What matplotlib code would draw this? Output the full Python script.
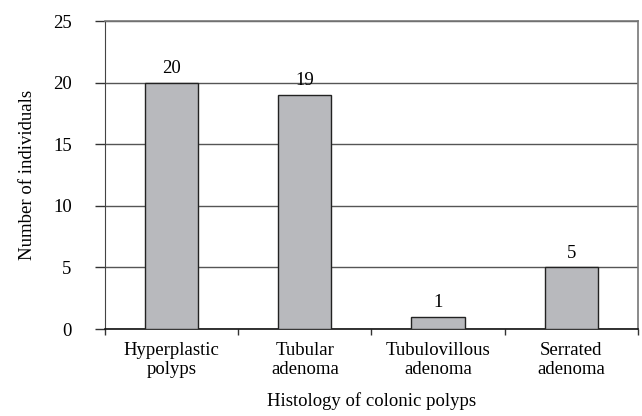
import matplotlib.pyplot as plt
import numpy as np

categories = ['Hyperplastic\npolyps', 'Tubular\nadenoma', 'Tubulovillous\nadenoma', 'Serrated\nadenoma']
counts = [20, 19, 1, 5]
y_ticks = [0, 5, 10, 15, 20, 25]

plt.rcParams['font.family'] = ['Liberation Serif', 'DejaVu Serif']
plt.rcParams['font.size'] = 13.5

fig = plt.figure(figsize=(6.42, 4.16), dpi=100)
ax = fig.add_axes([0.1636, 0.209, 0.830, 0.7405])

x = np.arange(len(categories))
bars = ax.bar(x, counts, width=0.4, color='#b8b9bd', edgecolor='#222222', linewidth=1.0, zorder=3)
for b, v in zip(bars, counts):
    ax.annotate(str(v), (b.get_x() + b.get_width() / 2, v), xytext=(0, 4),
                textcoords='offset points', ha='center', va='bottom')

ax.set_xlim(-0.5, len(categories) - 0.5)
ax.set_ylim(0, 25)
ax.set_yticks(y_ticks)
ax.yaxis.grid(True, color='#555555', linewidth=1.0, zorder=0)
ax.tick_params(axis='y', length=7, width=1.0, pad=17, color='#333333')

ax.set_xticks(x)
ax.set_xticklabels(categories, linespacing=1.2)
ax.set_xticks(np.arange(len(categories) + 1) - 0.5, minor=True)
ax.tick_params(axis='x', which='major', length=0, pad=9)
ax.tick_params(axis='x', which='minor', length=4, width=1.0, color='#333333')

for side in ['top', 'right']:
    ax.spines[side].set_color('#777777')
    ax.spines[side].set_linewidth(1.2)
ax.spines['left'].set_color('#444444')
ax.spines['bottom'].set_color('#111111')
ax.spines['bottom'].set_linewidth(1.2)

ax.set_ylabel('Number of individuals', labelpad=12)
ax.set_xlabel('Histology of colonic polyps', labelpad=10)

fig.savefig('out.png', dpi=100)
